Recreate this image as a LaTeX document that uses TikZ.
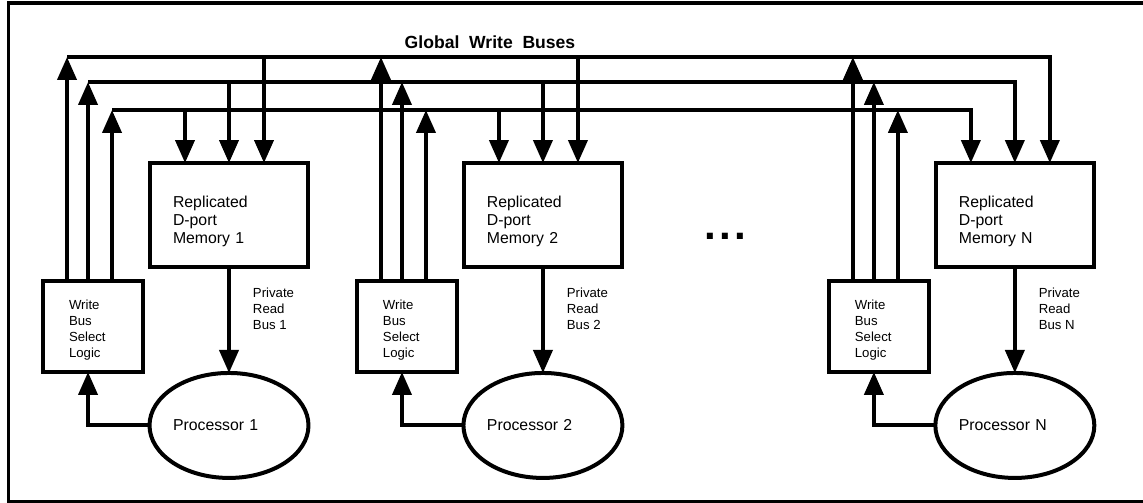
\documentclass[tikz,border=0pt]{standalone}
\usepackage{fontspec}
\setmainfont{Liberation Sans}
\usetikzlibrary{arrows.meta,shapes.geometric,positioning}

\begin{document}
\begin{tikzpicture}[x=0.02cm, y=-0.02cm, node distance=3.12cm,
    bus/.style={line width=0.08cm},
    busarrow/.style={bus, -{Triangle[length=0.46cm,width=0.38cm]}},
    memory/.style={rectangle, draw, line width=0.07cm, outer sep=0pt,
      minimum width=3.16cm, minimum height=2.08cm, text width=2.24cm,
      text height=13.4pt, inner xsep=0.46cm, align=left,
      font=\fontsize{9}{10.2}\selectfont},
    wbsl/.style={rectangle, draw, line width=0.07cm, outer sep=0pt,
      minimum width=2cm, minimum height=1.82cm, text width=0.96cm,
      text height=9.5pt, inner xsep=0.52cm, align=left,
      font=\fontsize{7.5}{9.1}\selectfont},
    proc/.style={ellipse, draw, line width=0.08cm, outer sep=0pt, inner sep=0pt,
      minimum width=3.18cm, minimum height=2.1cm, text width=2.24cm,
      align=left, font=\fontsize{9}{10.2}\selectfont},
    readlbl/.style={inner sep=0pt, align=left, font=\fontsize{7.5}{9.1}\selectfont}]
  \useasboundingbox (0,0) rectangle (1143,503);
  % Frame
  \draw [line width=0.08cm] (1143,3.5) -| (8.5,501.5) -- (1143,501.5);
  % Place nodes
  \node [memory] (mem1) at (229,215) {Replicated\\D-port\\Memory 1};
  \node [memory, right=of mem1] (mem2) {Replicated\\D-port\\Memory 2};
  \node [memory, right=6.28cm of mem2] (memN) {Replicated\\D-port\\Memory N};
  \node [proc, below=2.12cm of mem1] (proc1) {Processor 1};
  \node [proc, below=2.12cm of mem2] (proc2) {Processor 2};
  \node [proc, below=2.12cm of memN] (procN) {Processor N};
  \node [wbsl, below left=0.28cm and 0.14cm of mem1.south west] (wbsl1) {Write\\Bus\\Select\\Logic};
  \node [wbsl, below left=0.28cm and 0.14cm of mem2.south west] (wbsl2) {Write\\Bus\\Select\\Logic};
  \node [wbsl, below left=0.28cm and 0.14cm of memN.south west] (wbslN) {Write\\Bus\\Select\\Logic};
  \node [font=\fontsize{10}{12}\selectfont\bfseries] (title) at (490,42) {Global~~Write~~Buses};
  \node [font=\fontsize{24}{24}\selectfont\bfseries, inner sep=0pt] (dots) at (725,236) {.\kern1.8pt.\kern1.8pt.};
  \coordinate (busA) at (0,57);
  \coordinate (busB) at (0,82);
  \coordinate (busC) at (0,110);
  % Global write buses
  \draw [busarrow] ([xshift=-0.52cm]wbsl1.north |- busA) -| ([xshift=0.70cm]memN.north);
  \draw [busarrow] ([xshift=-0.10cm]wbsl1.north |- busB) -| (memN.north);
  \draw [busarrow] ([xshift=0.38cm]wbsl1.north |- busC) -| ([xshift=-0.88cm]memN.north);
  % Draw edges
  \path [busarrow] ([xshift=-0.52cm]wbsl1.north) edge ([xshift=-0.52cm]wbsl1.north |- busA);
  \path [busarrow] ([xshift=-0.10cm]wbsl1.north) edge ([xshift=-0.10cm]wbsl1.north |- busB);
  \path [busarrow] ([xshift=0.38cm]wbsl1.north) edge ([xshift=0.38cm]wbsl1.north |- busC);
  \path [busarrow] ([xshift=-0.52cm]wbsl2.north) edge ([xshift=-0.52cm]wbsl2.north |- busA);
  \path [busarrow] ([xshift=-0.10cm]wbsl2.north) edge ([xshift=-0.10cm]wbsl2.north |- busB);
  \path [busarrow] ([xshift=0.38cm]wbsl2.north) edge ([xshift=0.38cm]wbsl2.north |- busC);
  \path [busarrow] ([xshift=-0.52cm]wbslN.north) edge ([xshift=-0.52cm]wbslN.north |- busA);
  \path [busarrow] ([xshift=-0.10cm]wbslN.north) edge ([xshift=-0.10cm]wbslN.north |- busB);
  \path [busarrow] ([xshift=0.38cm]wbslN.north) edge ([xshift=0.38cm]wbslN.north |- busC);
  \path [busarrow] ([xshift=-0.88cm]mem1.north |- busC) edge ([xshift=-0.88cm]mem1.north);
  \path [busarrow] (mem1.north |- busB) edge (mem1.north);
  \path [busarrow] ([xshift=0.70cm]mem1.north |- busA) edge ([xshift=0.70cm]mem1.north);
  \path [busarrow] ([xshift=-0.88cm]mem2.north |- busC) edge ([xshift=-0.88cm]mem2.north);
  \path [busarrow] (mem2.north |- busB) edge (mem2.north);
  \path [busarrow] ([xshift=0.70cm]mem2.north |- busA) edge ([xshift=0.70cm]mem2.north);
  % Private read buses
  \path [busarrow] (mem1) edge node [readlbl, pos=0.39, right=0.44cm] {Private\\Read\\Bus 1} (proc1);
  \path [busarrow] (mem2) edge node [readlbl, pos=0.39, right=0.44cm] {Private\\Read\\Bus 2} (proc2);
  \path [busarrow] (memN) edge node [readlbl, pos=0.39, right=0.44cm] {Private\\Read\\Bus N} (procN);
  % Processor to select logic
  \draw [busarrow] (proc1.west) -| ([xshift=-0.10cm]wbsl1.south);
  \draw [busarrow] (proc2.west) -| ([xshift=-0.10cm]wbsl2.south);
  \draw [busarrow] (procN.west) -| ([xshift=-0.10cm]wbslN.south);
\end{tikzpicture}
\end{document}
